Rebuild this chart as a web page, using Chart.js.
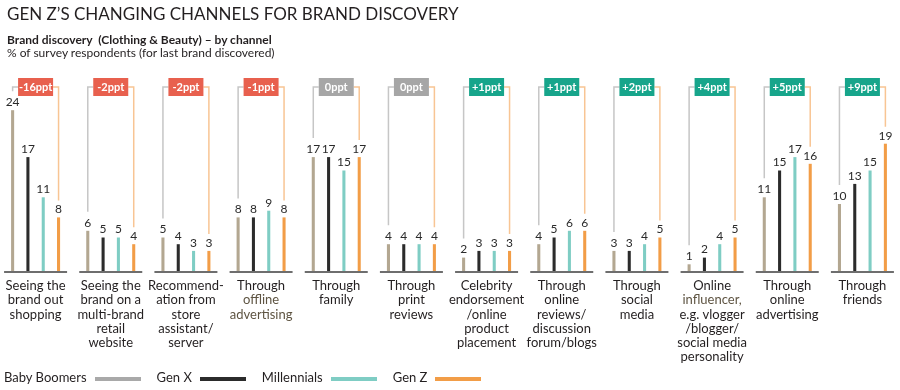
<!DOCTYPE html>
<html>
<head>
<meta charset="utf-8">
<script src="https://cdn.jsdelivr.net/npm/chart.js@4"></script>
<style>
  body { margin: 0; background: #fff; font-family: Lato, "Noto Sans", sans-serif; color: #231f20; }
  #wrap { position: relative; width: 900px; height: 390px; overflow: hidden; }
  #chart { position: absolute; left: -2px; top: 0; }
  .title { position: absolute; left: 7px; top: 3px; font-size: 17px; white-space: nowrap; }
  .sub1 { position: absolute; left: 7px; top: 32px; font-size: 12px; font-weight: bold; white-space: nowrap; }
  .sub2 { position: absolute; left: 7px; top: 45px; font-size: 12px; white-space: nowrap; }
  #legend { position: absolute; left: 4px; top: 369px; font-size: 13px; white-space: nowrap; }
  #legend span.item { display: inline-block; margin-right: 16px; }
  #legend span.line { display: inline-block; width: 46px; height: 4px; vertical-align: middle; margin-left: 8px; }
</style>
</head>
<body>
<div id="wrap">
  <canvas id="chart" width="902" height="390"></canvas>
  <div class="title">GEN Z’S CHANGING CHANNELS FOR BRAND DISCOVERY</div>
  <div class="sub1">Brand discovery&nbsp;&nbsp;(Clothing &amp; Beauty) – by channel</div>
  <div class="sub2">% of survey respondents (for last brand discovered)</div>
  <div id="legend"></div>
</div>
<script>
  // 채널 (라벨 줄 단위)
  const channels = [
    ["Seeing the", "brand out", "shopping"],
    ["Seeing the", "brand on a", "multi-brand", "retail", "website"],
    ["Recommend-", "ation from", "store", "assistant/", "server"],
    ["Through", "offline", "advertising"],
    ["Through", "family"],
    ["Through", "print", "reviews"],
    ["Celebrity", "endorsement", "/online", "product", "placement"],
    ["Through", "online", "reviews/", "discussion", "forum/blogs"],
    ["Through", "social", "media"],
    ["Online", "influencer,", "e.g. vlogger", "/blogger/", "social media", "personality"],
    ["Through", "online", "advertising"],
    ["Through", "friends"],
  ];
  // 색이 다른 줄 {채널: [줄]}
  const mutedLines = { 3: [1, 2], 9: [1] };

  const seriesNames = ["Baby Boomers", "Gen X", "Millennials", "Gen Z"];
  const babyBoomers = [24, 6, 5, 8, 17, 4, 2, 4, 3, 1, 11, 10];
  const genX = [17, 5, 4, 8, 17, 4, 3, 5, 3, 2, 15, 13];
  const millennials = [11, 5, 3, 9, 15, 4, 3, 6, 4, 4, 17, 15];
  const genZ = [8, 4, 3, 8, 17, 4, 3, 6, 5, 5, 16, 19];
  // Gen Z vs Baby Boomers
  const changePpt = [-16, -2, -2, -1, 0, 0, 1, 1, 2, 4, 5, 9];

  const barColors = ["#b3a791", "#2b2b2b", "#7fcdc4", "#f29d47"];
  const legendColors = ["#a9a9a9", "#2b2b2b", "#7fcdc4", "#f29d47"];

  // legend
  const legendEl = document.getElementById("legend");
  seriesNames.forEach((name, i) => {
    const item = document.createElement("span");
    item.className = "item";
    item.innerHTML = name + '<span class="line" style="background:' + legendColors[i] + '"></span>';
    legendEl.appendChild(item);
  });

  const decor = {
    id: "decor",
    beforeDatasetsDraw(chart) {
      const ctx = chart.ctx;
      const x = chart.scales.x;
      const base = chart.scales.y.getPixelForValue(0);
      ctx.save();
      ctx.strokeStyle = "#6e6e6e";
      ctx.lineWidth = 2;
      channels.forEach((c, i) => {
        const cx = x.getPixelForValue(i);
        ctx.beginPath();
        ctx.moveTo(cx - 31.5, base + 1);
        ctx.lineTo(cx + 31.5, base + 1);
        ctx.stroke();
      });
      ctx.restore();
    },
    afterDatasetsDraw(chart) {
      const ctx = chart.ctx;
      const x = chart.scales.x;
      const base = chart.scales.y.getPixelForValue(0);
      const bb = chart.getDatasetMeta(0).data;
      const gz = chart.getDatasetMeta(3).data;
      const badgeTop = 78, badgeH = 18, badgeW = 35;
      const midY = badgeTop + badgeH / 2;
      ctx.save();

      // brackets + badges
      changePpt.forEach((v, i) => {
        const cx = x.getPixelForValue(i);
        ctx.lineWidth = 1.5;
        ctx.strokeStyle = "#c6c6c6";
        ctx.beginPath();
        ctx.moveTo(bb[i].x, bb[i].y - 19);
        ctx.lineTo(bb[i].x, midY);
        ctx.lineTo(cx - badgeW / 2, midY);
        ctx.stroke();
        ctx.strokeStyle = "#f8c594";
        ctx.beginPath();
        ctx.moveTo(gz[i].x, gz[i].y - 17);
        ctx.lineTo(gz[i].x, midY);
        ctx.lineTo(cx + badgeW / 2, midY);
        ctx.stroke();

        ctx.fillStyle = v < 0 ? "#e8604e" : v > 0 ? "#17a58b" : "#a6a6a6";
        ctx.fillRect(cx - badgeW / 2, badgeTop, badgeW, badgeH);
        ctx.fillStyle = "#fff";
        ctx.font = "bold 11px Lato, 'Noto Sans', sans-serif";
        ctx.textAlign = "center";
        ctx.textBaseline = "middle";
        ctx.fillText((v > 0 ? "+" : "") + v + "ppt", cx, midY + 0.5);
      });

      // values
      ctx.fillStyle = "#2a2a2a";
      ctx.font = "12px Lato, 'Noto Sans', sans-serif";
      ctx.textAlign = "center";
      ctx.textBaseline = "middle";
      chart.data.datasets.forEach((ds, d) => {
        chart.getDatasetMeta(d).data.forEach((bar, i) => {
          ctx.fillText(ds.data[i], bar.x, bar.y - 8);
        });
      });

      // category labels
      ctx.font = "13px Lato, 'Noto Sans', sans-serif";
      channels.forEach((lines, i) => {
        const cx = x.getPixelForValue(i);
        lines.forEach((t, k) => {
          const muted = mutedLines[i] && mutedLines[i].includes(k);
          ctx.fillStyle = muted ? "#5e5442" : "#231f20";
          ctx.fillText(t, cx, base + 15 + k * 14.2);
        });
      });
      ctx.restore();
    },
  };

  const ctx = document.getElementById("chart").getContext("2d");
  const chart = new Chart(ctx, {
    type: "bar",
    data: {
      labels: channels.map((c) => c.join(" ")),
      datasets: [babyBoomers, genX, millennials, genZ].map((vals, i) => ({
        label: seriesNames[i],
        data: vals,
        backgroundColor: barColors[i],
        categoryPercentage: 0.815,
        barPercentage: 0.2,
      })),
    },
    options: {
      responsive: false,
      animation: false,
      layout: { padding: { top: 70, bottom: 119, left: 0, right: 0 } },
      scales: {
        x: { display: false },
        y: { display: false, min: 0, max: 30 },
      },
      plugins: {
        legend: { display: false },
        tooltip: { enabled: false },
      },
    },
    plugins: [decor],
  });
</script>
</body>
</html>
